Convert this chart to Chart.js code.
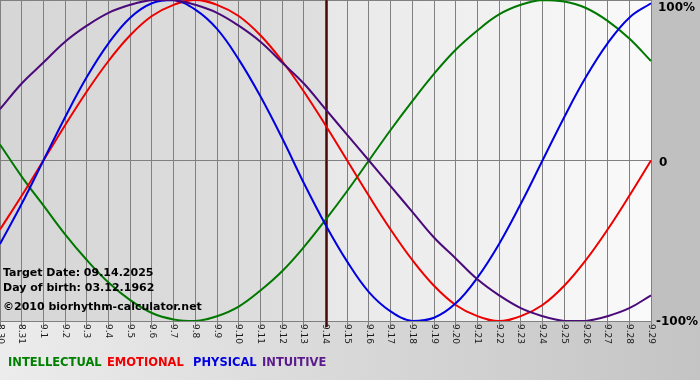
<!DOCTYPE html>
<html>
<head>
<meta charset="utf-8">
<script src="https://cdn.jsdelivr.net/npm/chart.js@4/dist/chart.umd.min.js"></script>
<style>
  html, body { margin: 0; padding: 0; background: #d8d8d8; }
  #wrap { width: 700px; height: 380px; }
</style>
</head>
<body>
<div id="wrap"><canvas id="bio" width="700" height="380"></canvas></div>
<script>
// --- Data (values in %) ---
const days = ['8.30', '8.31', '9.1', '9.2', '9.3', '9.4', '9.5', '9.6', '9.7', '9.8', '9.9', '9.10',
    '9.11', '9.12', '9.13', '9.14', '9.15', '9.16', '9.17', '9.18', '9.19', '9.20', '9.21', '9.22',
    '9.23', '9.24', '9.25', '9.26', '9.27', '9.28', '9.29'];
const targetDay = '9.14';

const intellectual = [10, -10, -28, -46, -62, -76, -87, -95, -99, -100, -97, -91, -81, -69, -54, -37,
    -19, 0, 19, 37, 54, 69, 81, 91, 97, 100, 99, 95, 87, 76, 62];
const emotional = [-43, -22, 0, 22, 43, 62, 78, 90, 97, 100, 97, 90, 78, 62, 43, 22,
    0, -22, -43, -62, -78, -90, -97, -100, -97, -90, -78, -62, -43, -22, 0];
const physical = [-52, -27, 0, 27, 52, 73, 89, 98, 100, 94, 82, 63, 40, 14, -14, -40,
    -63, -82, -94, -100, -98, -89, -73, -52, -27, 0, 27, 52, 73, 89, 98];
const intuitive = [32, 48, 61, 74, 84, 92, 97, 100, 100, 97, 92, 84, 74, 61, 48, 32,
    16, 0, -16, -32, -48, -61, -74, -84, -92, -97, -100, -100, -97, -92, -84];

const yLabels = ['100%', '0', '-100%'];
const legendItems = ['INTELLECTUAL', 'EMOTIONAL', 'PHYSICAL', 'INTUITIVE'];
const infoLines = ['Target Date: 09.14.2025', 'Day of birth: 03.12.1962', '\u00a92010 biorhythm-calculator.net'];

const FONT = '"DejaVu Sans", Verdana, sans-serif';

// --- Backgrounds + target line ---
const bgPlugin = {
    id: 'bg',
    beforeDraw(chart) {
        const { ctx, chartArea: a, scales: { x } } = chart;
        const W = chart.width, H = chart.height;
        const xt = x.getPixelForValue(days.indexOf(targetDay));

        let g = ctx.createLinearGradient(0, 0, W, 0);
        g.addColorStop(0, '#ececec');
        g.addColorStop(1, '#c4c4c4');
        ctx.fillStyle = g;
        ctx.fillRect(0, 0, W, H);

        ctx.fillStyle = '#c0c0c0';
        ctx.fillRect(a.right, 0, W - a.right, a.bottom);

        g = ctx.createLinearGradient(a.left, 0, xt, 0);
        g.addColorStop(0, '#d6d6d6');
        g.addColorStop(1, '#dfdfdf');
        ctx.fillStyle = g;
        ctx.fillRect(a.left, a.top, xt - a.left, a.bottom - a.top);

        g = ctx.createLinearGradient(xt, 0, a.right, 0);
        g.addColorStop(0, '#e8e8e8');
        g.addColorStop(1, '#fafafa');
        ctx.fillStyle = g;
        ctx.fillRect(xt, a.top, a.right - xt, a.bottom - a.top);
    },
    beforeDatasetsDraw(chart) {
        const { ctx, chartArea: a, scales: { x } } = chart;
        const xt = Math.round(x.getPixelForValue(days.indexOf(targetDay)));
        ctx.save();
        ctx.fillStyle = '#a02828';
        ctx.fillRect(xt - 1, a.top, 3, a.bottom + 6 - a.top);
        ctx.fillStyle = '#4a0808';
        ctx.fillRect(xt, a.top, 1, a.bottom + 6 - a.top);
        ctx.restore();
    }
};

// --- Texts: rotated day labels, y labels, info, legend ---
const textPlugin = {
    id: 'texts',
    afterDraw(chart) {
        const { ctx, chartArea: a, scales: { x, y } } = chart;
        ctx.save();

        // day labels, rotated clockwise
        ctx.fillStyle = '#1a1a1a';
        ctx.font = '9px ' + FONT;
        ctx.textAlign = 'left';
        ctx.textBaseline = 'middle';
        days.forEach((d, i) => {
            ctx.save();
            ctx.translate(x.getPixelForValue(i), a.bottom + 3);
            ctx.rotate(Math.PI / 2);
            ctx.fillText(d, 0, 0);
            ctx.restore();
        });

        // y labels
        ctx.fillStyle = '#000';
        ctx.font = 'bold 12px ' + FONT;
        ctx.fillText(yLabels[0], 658, 8);
        ctx.fillText(yLabels[1], 659, y.getPixelForValue(0) + 2);
        ctx.fillText(yLabels[2], 656, a.bottom + 1);

        // info block
        ctx.font = 'bold 11px ' + FONT;
        ctx.textBaseline = 'alphabetic';
        ctx.fillText(infoLines[0], 3, 276);
        ctx.fillText(infoLines[1], 3, 291);
        ctx.fillText(infoLines[2], 3, 310);

        // legend
        ctx.font = 'bold 11.5px ' + FONT;
        const legendX = [8, 107, 193, 262];
        const legendColors = ['#008000', '#f00000', '#0000e0', '#5a1a8c'];
        legendItems.forEach((t, i) => {
            ctx.fillStyle = legendColors[i];
            ctx.fillText(t, legendX[i], 366);
        });
        ctx.restore();
    }
};

const line = (data, color, order) => ({
    data,
    borderColor: color,
    borderWidth: 2,
    pointRadius: 0,
    tension: 0.4,
    fill: false,
    order,
});

new Chart(document.getElementById('bio'), {
    type: 'line',
    data: {
        labels: days,
        datasets: [
            line(intellectual, '#007800', 4),
            line(emotional, '#ee0000', 3),
            line(physical, '#0000e0', 2),
            line(intuitive, '#4b0a7a', 1),
        ]
    },
    options: {
        responsive: false,
        animation: false,
        layout: { padding: 0 },
        plugins: { legend: { display: false }, tooltip: { enabled: false } },
        scales: {
            x: {
                offset: false,
                grid: { color: '#808080', lineWidth: 1, drawTicks: true, tickLength: 6, tickColor: '#808080' },
                border: { display: false },
                ticks: { display: false, autoSkip: false },
                afterFit: s => { s.height = 59; },
            },
            y: {
                position: 'right',
                min: -100,
                max: 100,
                grid: { color: '#808080', lineWidth: 1, drawTicks: false },
                border: { display: false },
                ticks: { display: false, stepSize: 100 },
                afterFit: s => { s.width = 49; },
            }
        }
    },
    plugins: [bgPlugin, textPlugin]
});
</script>
</body>
</html>
